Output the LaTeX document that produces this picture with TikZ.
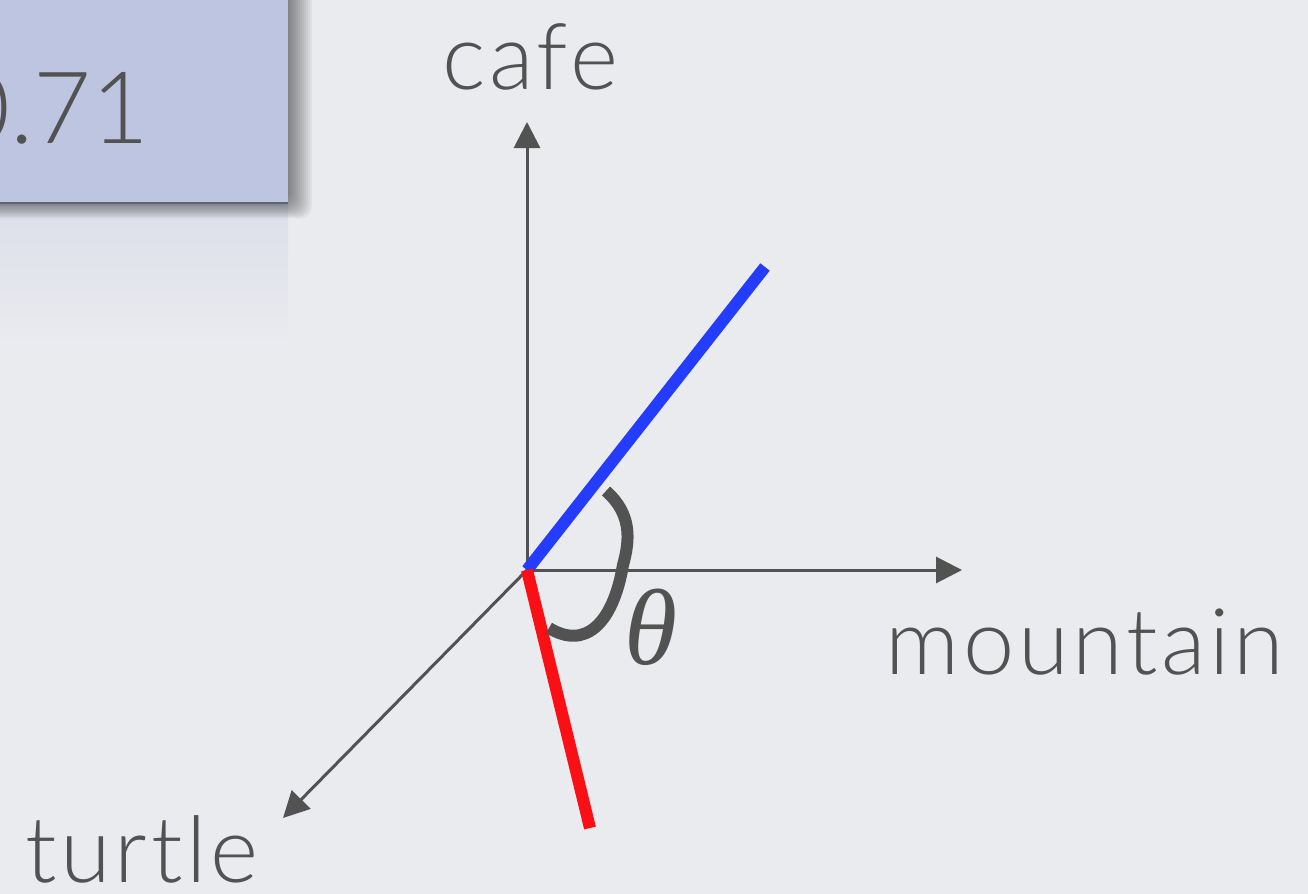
\documentclass[tikz,border=0pt]{standalone}
\usepackage{fontspec}
\setmainfont{Lato}[UprightFont={* Light}]
\newfontfamily\labelfont{Lato}[UprightFont={* Light},LetterSpace=4]
\newfontfamily\thetafont{Liberation Serif}
\usetikzlibrary{arrows.meta}
\definecolor{bg}{RGB}{234,235,239}
\definecolor{refl}{RGB}{220,223,234}
\definecolor{boxfill}{RGB}{190,197,224}
\definecolor{boxedge}{RGB}{95,100,115}
\definecolor{ink}{RGB}{82,82,82}
\definecolor{bl}{RGB}{35,60,255}
\definecolor{rd}{RGB}{250,15,20}
\begin{document}
\begin{tikzpicture}[x=0.5pt,y=-0.5pt,
  axis/.style={ink,line width=1.5pt,-{Triangle[length=13pt,width=13pt]}},
  vec/.style={line width=6pt},
  lbl/.style={text=ink,font=\labelfont\fontsize{46}{52}\selectfont,inner sep=0pt},
  anglearc/.style={ink,line width=6pt}]
\useasboundingbox (0,0) rectangle (1308,894);
\clip (0,0) rectangle (1308,894);
\fill[bg] (0,0) rectangle (1308,894);
% reflection below the box
\shade[top color=refl,bottom color=bg] (0,203) rectangle (288,345);
% shadow of the box (soft, layered)
\foreach \i in {1,...,16}
  \fill[black,opacity=0.045,rounded corners=6pt] (-30,-30) rectangle (280+\i*2,196+\i*1.4);
% box
\fill[boxfill] (-30,-30) rectangle (288,203);
\draw[boxedge,line width=0.8pt] (-30,203) -- (288,203);
\node[text=ink,inner sep=0pt,anchor=base east,font=\fontsize{50}{60}\selectfont] (score) at (150,143) {0.71};
% axes
\coordinate (O) at (527,570);
\coordinate (C) at (527,122);
\coordinate (M) at (962,570);
\coordinate (T) at (283,818);
\draw[axis] (O) -- (C);
\draw[axis] (O) -- (M);
\draw[axis] (O) -- (T);
% vectors
\coordinate (B) at (765,267);
\coordinate (R) at (590,828);
\draw[vec,bl] (O) -- (B);
\draw[vec,rd] (O) -- (R);
% angle
\coordinate (a1) at (606,491);
\coordinate (a2) at (623,565);
\coordinate (a3) at (549,628);
\draw[anglearc] (a1) .. controls (632,514) and (630,540) .. (a2)
  .. controls (613,624) and (585,650) .. (a3);
\node[text=ink,font=\thetafont\itshape\fontsize{54}{60}\selectfont,inner sep=0pt] (theta) at (651,627) {θ};
% labels
\node[lbl,anchor=base] (cafe) at (530,90) {cafe};
\node[lbl,anchor=base west] (mountain) at (885,674) {mountain};
\node[lbl,anchor=base west] (turtle) at (25,882) {turtle};
\end{tikzpicture}
\end{document}
